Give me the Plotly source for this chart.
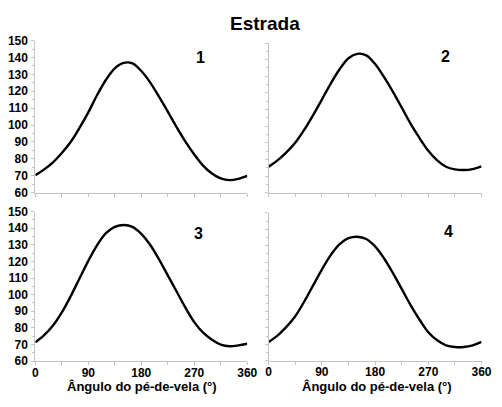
import plotly.graph_objects as go

angle = [0, 15, 30, 45, 60, 75, 90, 105, 120, 135, 150, 165, 180, 195, 210, 225, 240, 255, 270, 285, 300, 315, 330, 345, 360]

panel1 = [70.3, 73.8, 78.0, 83.5, 90.0, 98.3, 107.5, 117.8, 126.8, 133.6, 136.8, 136.5, 132.0, 125.3, 116.8, 108.0, 98.8, 90.2, 82.6, 76.0, 71.3, 68.4, 67.4, 68.2, 69.9]
panel2 = [75.6, 79.4, 84.2, 90.0, 97.7, 106.5, 116.0, 125.6, 134.2, 140.8, 143.5, 142.6, 137.4, 129.6, 120.8, 111.2, 101.5, 92.9, 85.2, 79.4, 75.6, 74.0, 73.6, 74.2, 75.8]
panel3 = [71.3, 75.6, 81.4, 89.3, 99.0, 109.7, 120.3, 129.8, 137.0, 140.7, 141.9, 140.8, 136.6, 130.0, 121.3, 111.6, 101.9, 92.2, 83.5, 77.1, 72.9, 70.0, 69.0, 69.5, 70.5]
panel4 = [71.4, 75.3, 80.6, 87.1, 95.9, 105.7, 115.5, 124.3, 131.0, 134.6, 135.5, 134.1, 129.6, 122.4, 113.5, 103.7, 93.9, 85.1, 77.3, 72.4, 69.4, 68.3, 68.3, 69.3, 71.4]

panel_labels = ["1", "2", "3", "4"]
x_ticks = [0, 90, 180, 270, 360]
y_ticks = [60, 70, 80, 90, 100, 110, 120, 130, 140, 150]
title = "Estrada"
x_title = "Ângulo do pé-de-vela (°)"

W, H = 502, 407
OFF = 8  # page body margin offset
FONT = "Liberation Sans, Arial, sans-serif"

def px(x):
    return (x - OFF) / W

def py(y):
    return 1 - (y - OFF) / H

fig = go.Figure()
series = [panel1, panel2, panel3, panel4]
for i, ys in enumerate(series):
    fig.add_trace(go.Scatter(
        x=angle, y=ys, mode="lines", line=dict(color="black", width=2.4, shape="spline", smoothing=1.0),
        xaxis="x" if i == 0 else f"x{i+1}", yaxis="y" if i == 0 else f"y{i+1}", showlegend=False,
        hoverinfo="skip"))

xd_left = [px(32), px(250)]
xd_right = [px(272), px(491)]

axcol = "#c4c4c4"
tickfont = dict(family=FONT, size=12, color="black", weight="bold")

def xaxis(domain, anchor, show_labels):
    return dict(domain=domain, anchor=anchor, range=[0, 360], tickvals=x_ticks,
                showticklabels=show_labels, tickfont=tickfont, ticklabelstandoff=-3,
                showline=True, linecolor=axcol, linewidth=1, showgrid=False, zeroline=False,
                ticks="outside", ticklen=3, tickcolor=axcol,
                minor=dict(dtick=45, ticks="outside", ticklen=3, tickcolor=axcol, showgrid=False),
                fixedrange=True)

def yaxis(domain, anchor, show_labels):
    return dict(domain=domain, anchor=anchor, range=[60, 150], tickvals=y_ticks,
                showticklabels=show_labels, tickfont=tickfont, ticklabelstandoff=1,
                showline=True, linecolor=axcol, linewidth=1, showgrid=False, zeroline=False,
                ticks="outside", ticklen=3, tickcolor=axcol,
                minor=dict(dtick=5, tick0=60, ticks="outside", ticklen=2, tickcolor=axcol, showgrid=False),
                fixedrange=True)

fig.update_layout(
    width=W, height=H, margin=dict(l=0, r=0, t=0, b=0),
    paper_bgcolor="white", plot_bgcolor="white",
    xaxis=xaxis(xd_left, "y", False), yaxis=yaxis([py(192), py(34.5)], "x", True),
    xaxis2=xaxis(xd_right, "y2", False), yaxis2=yaxis([py(192), py(37)], "x2", False),
    xaxis3=xaxis(xd_left, "y3", True), yaxis3=yaxis([py(366.5), py(211.5)], "x3", True),
    xaxis4=xaxis(xd_right, "y4", True), yaxis4=yaxis([py(366), py(213)], "x4", False),
)

ann = []
ann.append(dict(text=title, x=px(268.5), y=py(17), xref="paper", yref="paper", showarrow=False,
                xanchor="center", yanchor="middle",
                font=dict(family=FONT, size=19, color="black", weight="bold")))
lab_pos = [(202, 52.5), (454, 51), (200, 234), (457.5, 232.5)]
for t, (lx, ly) in zip(panel_labels, lab_pos):
    ann.append(dict(text=t, x=px(lx), y=py(ly), xref="paper", yref="paper", showarrow=False,
                    xanchor="center", yanchor="middle",
                    font=dict(family=FONT, size=16, color="black", weight="bold")))
for cx in [142, 383]:
    ann.append(dict(text=x_title, x=px(cx), y=py(393), xref="paper", yref="paper", showarrow=False,
                    xanchor="center", yanchor="middle",
                    font=dict(family=FONT, size=13, color="black", weight="bold")))
fig.update_layout(annotations=ann)

fig.write_html("out.html")
